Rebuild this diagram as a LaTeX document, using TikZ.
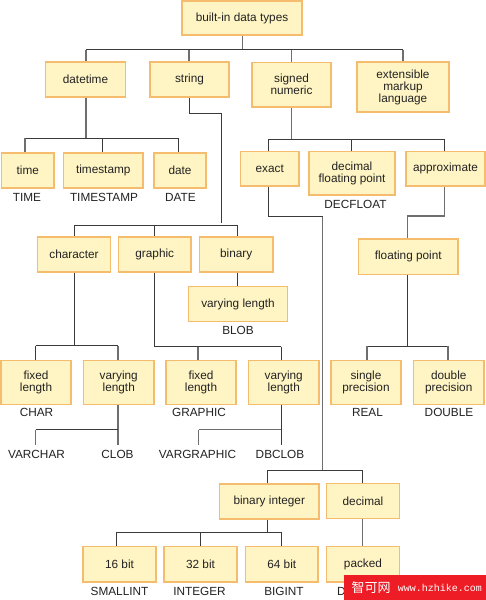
\documentclass[tikz,border=0pt]{standalone}
\usepackage{fontspec}
\setmainfont{Liberation Sans}
\newfontfamily\cjkwm{Noto Sans CJK SC}
\newfontfamily\monowm{Liberation Mono}
\definecolor{boxfill}{HTML}{FFF5C4}
\definecolor{boxline}{HTML}{F6BC6E}
\definecolor{trunkc}{HTML}{6E6E6E}
\definecolor{busc}{HTML}{3A3A3A}
\definecolor{txt}{HTML}{222222}
\definecolor{wmred}{HTML}{EE1C25}
\tikzset{
  box/.style={draw=boxline,fill=boxfill,line width=1.3pt,inner sep=0pt,align=center,text=txt,font=\fontsize{11.8}{12}\selectfont},
  sqlabel/.style={inner sep=0pt,text=txt,font=\fontsize{11.8}{12}\selectfont},
  trunk/.style={draw=trunkc,line width=1.2pt},
  bus/.style={draw=busc,line width=0.8pt},
}
\newcommand{\bx}[6]{\node[box,minimum width={(#4-#2)*1pt},minimum height={(#5-#3)*1pt}] (#1) at ({(#2+#4)/2},{(#3+#5)/2}) {#6};}
\begin{document}
\begin{tikzpicture}[x=1pt,y=-1pt]
\useasboundingbox (0,0) rectangle (486,600);
\fill[white] (0,0) rectangle (486,600);
% boxes
\bx{root}{182}{1}{302}{35}{built-in data types}
\bx{datetime}{45.5}{62}{125.5}{97}{datetime}
\bx{string}{150}{62}{229}{97}{string}
\bx{signed}{252}{62.5}{331}{107}{signed\\numeric}
\bx{xml}{357}{62}{449}{112}{extensible\\markup\\language}
\bx{time}{1.5}{153}{54}{188}{time}
\bx{timestamp}{63.5}{153}{143}{188}{timestamp}
\bx{date}{154}{153}{206}{188}{date}
\bx{exact}{240.5}{151.5}{299}{186}{exact}
\bx{decfp}{309}{151.5}{395}{195}{decimal\\floating point}
\bx{approx}{406}{151.5}{485}{186}{approximate}
\bx{character}{37.5}{237}{110.5}{272}{character}
\bx{graphic}{118.5}{237}{191}{272}{graphic}
\bx{binary}{199.5}{237}{273}{272}{binary}
\bx{varbin}{188.5}{286.5}{287.5}{321.5}{varying length}
\bx{fp}{358.5}{239}{458}{274.5}{floating point}
\bx{fixc}{1}{360.5}{71}{404.5}{fixed\\length}
\bx{varc}{83.5}{360.5}{154}{404.5}{varying\\length}
\bx{fixg}{166}{360.5}{236}{404.5}{fixed\\length}
\bx{varg}{248.5}{360.5}{319}{404.5}{varying\\length}
\bx{single}{331}{360.5}{401}{404.5}{single\\precision}
\bx{double}{413.5}{360.5}{484}{404.5}{double\\precision}
\bx{binint}{219.5}{484}{319}{519}{binary integer}
\bx{decimal}{326.5}{483.5}{399.5}{518.5}{decimal}
\bx{b16}{83}{546.5}{156}{582}{16 bit}
\bx{b32}{164}{546.5}{237}{582}{32 bit}
\bx{b64}{245.5}{546.5}{318}{582}{64 bit}
\bx{packed}{326.5}{546.5}{399.5}{582}{packed}
% labels
\node[sqlabel] (lTIME) at (27,197.5) {TIME};
\node[sqlabel] (lTS) at (104,197.5) {TIMESTAMP};
\node[sqlabel] (lDATE) at (180.5,197.5) {DATE};
\node[sqlabel] (lDF) at (355.5,204.5) {DECFLOAT};
\node[sqlabel] (lBLOB) at (238,330) {BLOB};
\node[sqlabel] (lCHAR) at (36.5,412.5) {CHAR};
\node[sqlabel] (lGR) at (199,412.5) {GRAPHIC};
\node[sqlabel] (lREAL) at (367.5,412.5) {REAL};
\node[sqlabel] (lDBL) at (449,412.5) {DOUBLE};
\node[sqlabel] (lVC) at (36.5,454.5) {VARCHAR};
\node[sqlabel] (lCLOB) at (117.5,454.5) {CLOB};
\node[sqlabel] (lVG) at (197.5,454.5) {VARGRAPHIC};
\node[sqlabel] (lDB) at (280,454.5) {DBCLOB};
\node[sqlabel] (lSI) at (119.5,591.5) {SMALLINT};
\node[sqlabel] (lINT) at (199.5,591.5) {INTEGER};
\node[sqlabel] (lBI) at (284,591.5) {BIGINT};
\node[sqlabel,anchor=west] (lDEC) at (337,591.5) {D};
\coordinate (eVC) at (35.5,445);
\coordinate (eCLOB) at (118,445);
\coordinate (eVG) at (198.5,445);
\coordinate (eDB) at (281,445);
% connectors
\draw[trunk] (root.south -| 242.5,0) -- (242.5,49.5);
\draw[bus] (86,49.5) -- (403,49.5);
\draw[trunk] (86,49.5) -- (datetime.north -| 86,0);
\draw[trunk] (189,49.5) -- (string.north -| 189,0);
\draw[trunk] (291.5,49.5) -- (signed.north -| 291.5,0);
\draw[trunk] (403,49.5) -- (xml.north -| 403,0);
\draw[trunk] (datetime.south -| 86,0) -- (86,138);
\draw[bus] (25,138) -- (178.5,138);
\draw[trunk] (25,138) -- (time.north -| 25,0);
\draw[bus] (102.5,138) -- (timestamp.north -| 102.5,0);
\draw[bus] (178.5,138) -- (date.north -| 178.5,0);
\draw[bus] (string.south -| 189,0) -- (189,113.5) -- (221,113.5) -- (221,222.5);
\draw[bus] (74.5,225) -- (237,225);
\draw[bus] (74.5,225) -- (character.north -| 74.5,0);
\draw[bus] (154.5,225) -- (graphic.north -| 154.5,0);
\draw[bus] (237,225) -- (binary.north -| 237,0);
\draw[bus] (binary.south -| 237,0) -- (varbin.north -| 237,0);
\draw[trunk] (signed.south -| 291.5,0) -- (291.5,139);
\draw[bus] (268.5,139) -- (444.5,139);
\draw[bus] (268.5,139) -- (exact.north -| 268.5,0);
\draw[bus] (351.5,139) -- (decfp.north -| 351.5,0);
\draw[bus] (444.5,139) -- (approx.north -| 444.5,0);
\draw[bus] (exact.south -| 268.5,0) -- (268.5,216.5) -- (322.5,216.5);
\draw[trunk] (322.5,216.5) -- (322.5,470.5);
\draw[bus] (267,470.5) -- (362.5,470.5);
\draw[bus] (267,470.5) -- (binint.north -| 267,0);
\draw[bus] (362.5,470.5) -- (decimal.north -| 362.5,0);
\draw[trunk] (approx.south -| 444.5,0) -- (444.5,216) -- (407.5,216) -- (fp.north -| 407.5,0);
\draw[bus] (fp.south -| 407.5,0) -- (407.5,346);
\draw[bus] (367,346) -- (448,346);
\draw[trunk] (367,346) -- (single.north -| 367,0);
\draw[trunk] (448,346) -- (double.north -| 448,0);
\draw[bus] (character.south -| 74.5,0) -- (74.5,345.5);
\draw[bus] (35.5,345.5) -- (118,345.5);
\draw[bus] (35.5,345.5) -- (fixc.north -| 35.5,0);
\draw[trunk] (118,345.5) -- (varc.north -| 118,0);
\draw[bus] (graphic.south -| 154.5,0) -- (154.5,346.5) -- (281,346.5);
\draw[trunk] (198,346.5) -- (fixg.north -| 198,0);
\draw[bus] (281,346.5) -- (varg.north -| 281,0);
\draw[trunk] (varc.south -| 118,0) -- (eCLOB);
\draw[bus] (35.5,429.5) -- (118,429.5);
\draw[trunk] (35.5,429.5) -- (eVC);
\draw[bus] (varg.south -| 281,0) -- (eDB);
\draw[trunk] (198.5,429.5) -- (281,429.5);
\draw[trunk] (198.5,429.5) -- (eVG);
\draw[bus] (binint.south -| 267.5,0) -- (267.5,532);
\draw[bus] (116.5,532) -- (281,532);
\draw[bus] (116.5,532) -- (b16.north -| 116.5,0);
\draw[bus] (200.5,532) -- (b32.north -| 200.5,0);
\draw[bus] (281,532) -- (b64.north -| 281,0);
\draw[trunk] (decimal.south -| 362.5,0) -- (packed.north -| 362.5,0);
% watermark
\fill[wmred] (344,575) rectangle (486,600);
\node[inner sep=0pt,text=white,font=\cjkwm\fontsize{13}{13}\selectfont] (wm1) at (371,588) {智可网};
\node[inner sep=0pt,text=white,font=\monowm\fontsize{10}{10}\selectfont] (wm2) at (440,588) {www.hzhike.com};
\end{tikzpicture}
\end{document}
